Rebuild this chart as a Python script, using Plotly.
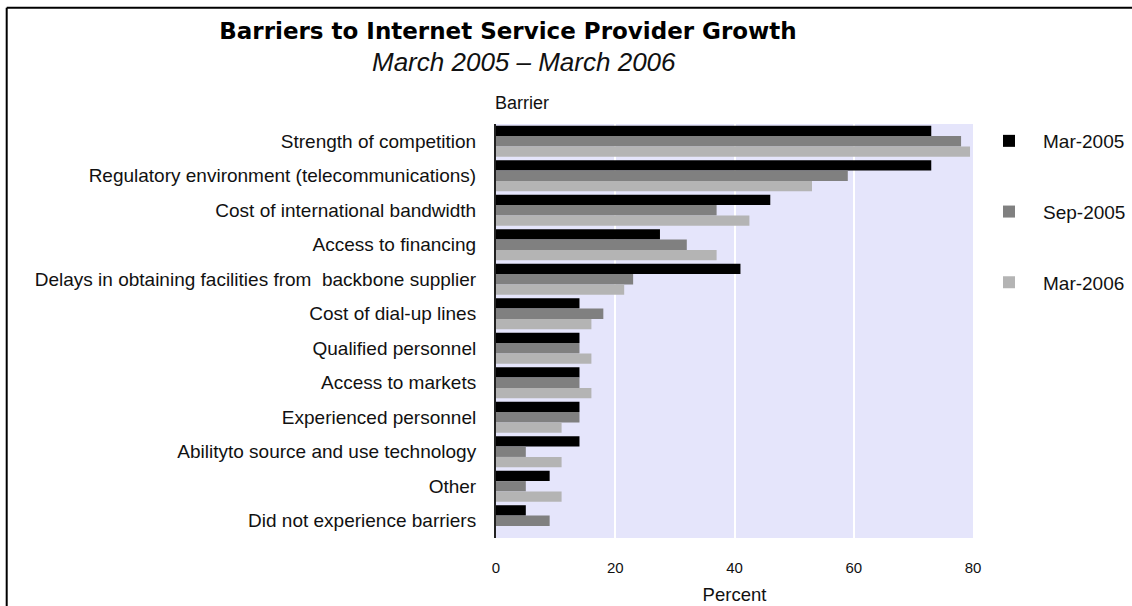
import plotly.graph_objects as go

# Survey responses: share of ISPs citing each barrier (percent)
barriers = [
    "Strength of competition",
    "Regulatory environment (telecommunications)",
    "Cost of international bandwidth",
    "Access to financing",
    "Delays in obtaining facilities from  backbone supplier",
    "Cost of dial-up lines",
    "Qualified personnel",
    "Access to markets",
    "Experienced personnel",
    "Abilityto source and use technology",
    "Other",
    "Did not experience barriers",
]
mar_2005 = [73, 73, 46, 27.5, 41, 14, 14, 14, 14, 14, 9, 5]
sep_2005 = [78, 59, 37, 32, 23, 18, 14, 14, 14, 5, 5, 9]
mar_2006 = [79.5, 53, 42.5, 37, 21.5, 16, 16, 16, 11, 11, 11, 0]

series_names = ["Mar-2005", "Sep-2005", "Mar-2006"]
series_values = [mar_2005, sep_2005, mar_2006]
series_colors = ["#000000", "#808080", "#b4b4b4"]

x_ticks = [0, 20, 40, 60, 80]

W, H = 1132, 606
L, R, T, B = 496, 973, 124, 538


def px_x(px):
    return (px - L) / (R - L)


def px_y(py):
    return (B - py) / (B - T)


FONT = "Liberation Sans"
INK = "#111111"

fig = go.Figure()
for name, vals, col in zip(series_names, series_values, series_colors):
    fig.add_trace(go.Bar(
        y=barriers, x=vals, name=name, orientation="h",
        marker=dict(color=col, line=dict(width=0)),
        legendgroup=name,
    ))

fig.update_layout(
    width=W, height=H,
    margin=dict(l=L, r=W - R, t=T, b=H - B, pad=0, autoexpand=False),
    paper_bgcolor="white",
    plot_bgcolor="#e5e5fb",
    barmode="group",
    bargap=0.1,
    bargroupgap=0,
    font=dict(family=FONT, size=17, color=INK),
    title=dict(
        text="<b>Barriers to Internet Service Provider Growth</b>",
        x=508 / W, xanchor="center", xref="container",
        y=1 - 31 / H, yanchor="middle", yref="container",
        font=dict(family="DejaVu Sans", size=23, color="#000000"),
    ),
    xaxis=dict(
        range=[0, 80], tickvals=x_ticks, ticktext=[str(v) for v in x_ticks],
        showgrid=True, gridcolor="white", gridwidth=2, zeroline=False,
        showline=False, ticks="", ticklabelstandoff=19,
        tickfont=dict(family=FONT, size=15, color=INK),
        title=dict(text="Percent", standoff=13,
                   font=dict(family=FONT, size=18.5, color=INK)),
        fixedrange=True,
    ),
    yaxis=dict(
        autorange="reversed", showgrid=False, zeroline=False,
        showline=True, linecolor="#222222", linewidth=2,
        ticks="", ticklabelstandoff=14,
        tickfont=dict(family=FONT, size=19, color=INK),
        fixedrange=True,
    ),
    legend=dict(
        x=px_x(975), y=px_y(122), xanchor="left", yanchor="top",
        xref="paper", yref="paper",
        traceorder="grouped", tracegroupgap=43,
        font=dict(family=FONT, size=19, color=INK),
        bgcolor="rgba(0,0,0,0)", itemwidth=58,
    ),
    showlegend=True,
)

fig.add_annotation(
    text="<i>March 2005 – March 2006</i>", xref="paper", yref="paper",
    x=px_x(524), y=px_y(62), xanchor="center", yanchor="middle",
    showarrow=False, font=dict(family=FONT, size=26, color=INK),
)
fig.add_annotation(
    text="Barrier", xref="paper", yref="paper",
    x=px_x(493), y=px_y(103), xanchor="left", yanchor="middle",
    showarrow=False, font=dict(family=FONT, size=18, color=INK),
)

# Frame lines along the top and left edges
fig.add_shape(type="line", xref="paper", yref="paper",
              x0=px_x(6.7), y0=px_y(7.8), x1=px_x(W + 2), y1=px_y(7.8),
              line=dict(color="black", width=2))
fig.add_shape(type="line", xref="paper", yref="paper",
              x0=px_x(6.7), y0=px_y(7.8), x1=px_x(6.7), y1=px_y(H + 2),
              line=dict(color="black", width=2))

fig.write_html("out.html")
